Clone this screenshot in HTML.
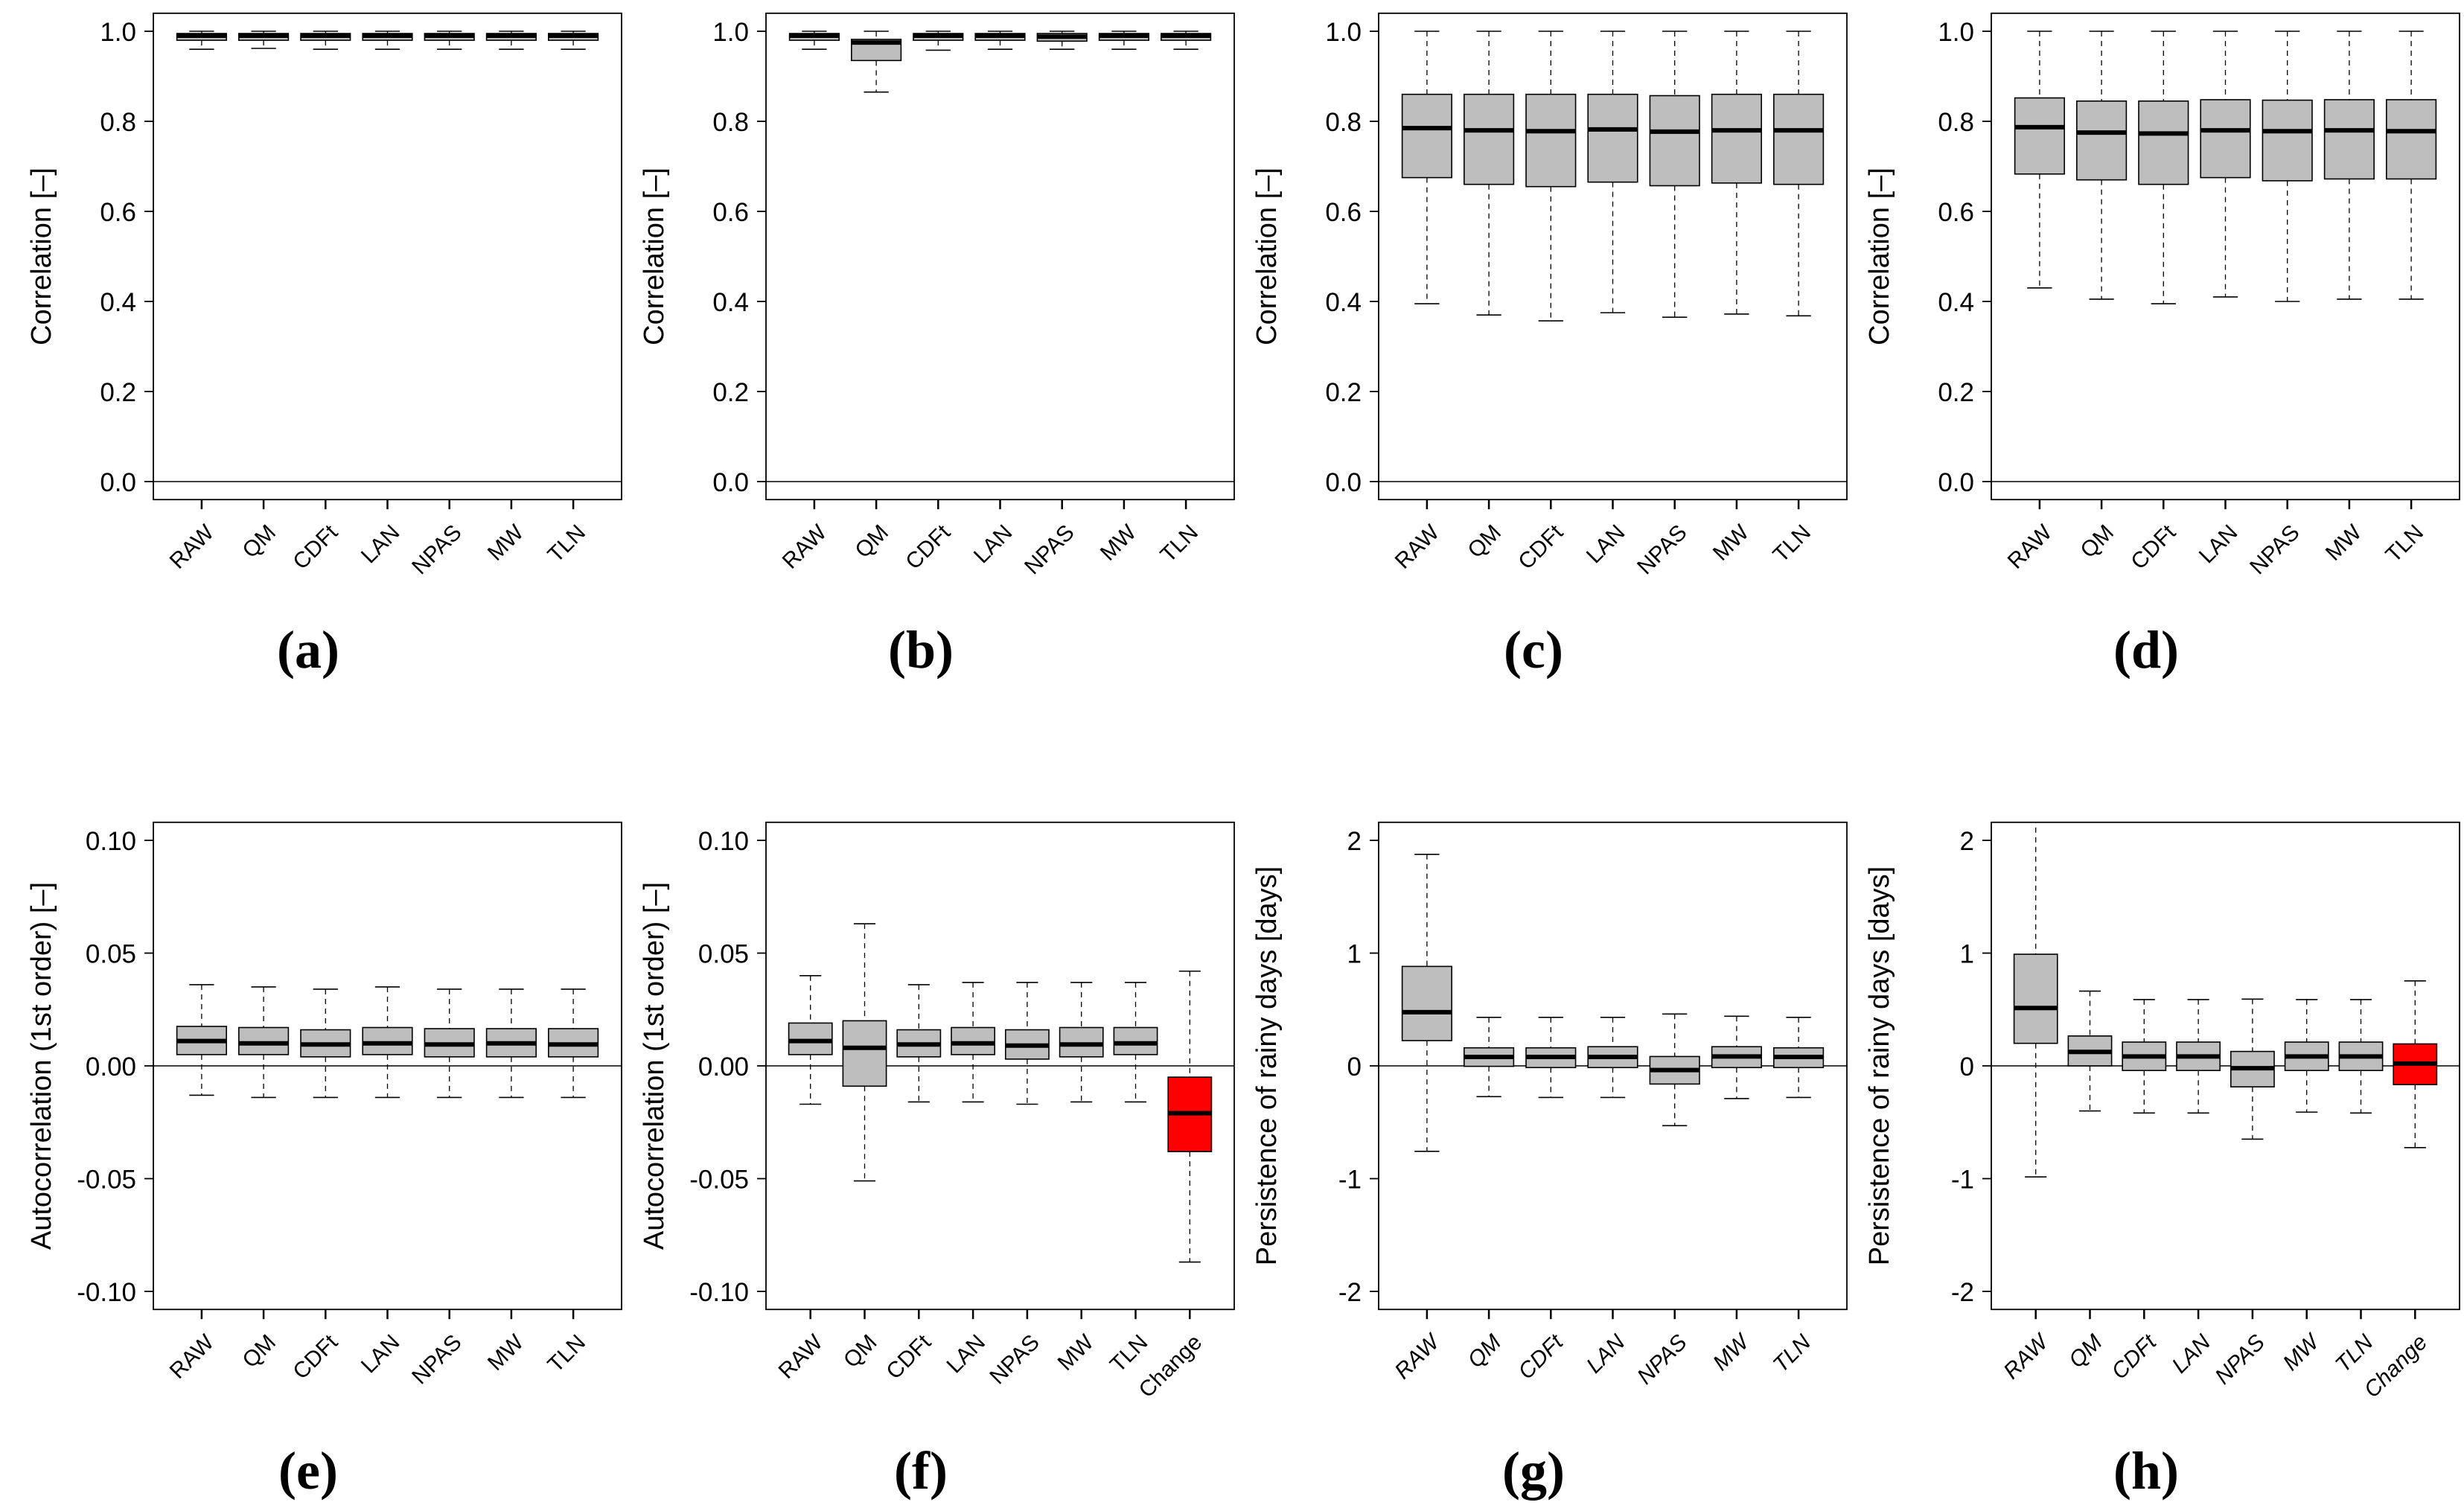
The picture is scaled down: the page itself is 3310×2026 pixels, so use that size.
<!DOCTYPE html>
<html><head><meta charset="utf-8"><style>
html,body{margin:0;padding:0;background:#fff;}
svg{display:block;}
</style></head><body>
<svg id="fig" width="3310" height="2026" viewBox="0 0 3310 2026" xmlns="http://www.w3.org/2000/svg"></svg>
<script>
// ---- data ----
const cats7 = ["RAW","QM","CDFt","LAN","NPAS","MW","TLN"];
const cats8 = ["RAW","QM","CDFt","LAN","NPAS","MW","TLN","Change"];
// each stat array: [lo, q1, med, q3, hi] per category
const dataA = [[0.96,0.98,0.99,0.995,1],[0.962,0.98,0.99,0.995,1],[0.96,0.98,0.99,0.995,1],[0.96,0.98,0.99,0.995,1],[0.96,0.98,0.99,0.995,1],[0.96,0.98,0.99,0.995,1],[0.96,0.98,0.99,0.995,1]];
const dataB = [[0.96,0.98,0.99,0.995,1],[0.865,0.935,0.975,0.982,1],[0.958,0.98,0.99,0.995,1],[0.96,0.98,0.99,0.995,1],[0.96,0.978,0.988,0.995,1],[0.96,0.98,0.99,0.995,1],[0.96,0.98,0.99,0.995,1]];
const dataC = [[0.395,0.675,0.785,0.86,1],[0.37,0.66,0.78,0.86,1],[0.357,0.655,0.778,0.86,1],[0.375,0.665,0.782,0.86,1],[0.365,0.657,0.777,0.857,1],[0.372,0.663,0.78,0.86,1],[0.368,0.66,0.78,0.86,1]];
const dataD = [[0.43,0.683,0.787,0.852,1],[0.405,0.67,0.775,0.845,1],[0.395,0.66,0.773,0.845,1],[0.41,0.675,0.78,0.848,1],[0.4,0.668,0.778,0.847,1],[0.405,0.672,0.78,0.848,1],[0.405,0.672,0.778,0.848,1]];
const dataE = [[-0.013,0.005,0.011,0.0175,0.036],[-0.014,0.005,0.010,0.017,0.035],[-0.014,0.004,0.0095,0.016,0.034],[-0.014,0.005,0.010,0.017,0.035],[-0.014,0.004,0.0095,0.0165,0.034],[-0.014,0.004,0.010,0.0165,0.034],[-0.014,0.004,0.0095,0.0165,0.034]];
const dataF = [[-0.017,0.005,0.011,0.019,0.040],[-0.051,-0.009,0.008,0.020,0.063],[-0.016,0.004,0.0095,0.016,0.036],[-0.016,0.005,0.010,0.017,0.037],[-0.017,0.003,0.009,0.016,0.037],[-0.016,0.004,0.0095,0.017,0.037],[-0.016,0.005,0.010,0.017,0.037],[-0.087,-0.038,-0.021,-0.005,0.042]];
const dataG = [[-0.758,0.224,0.476,0.882,1.876],[-0.273,-0.004,0.079,0.16,0.43],[-0.28,-0.015,0.079,0.16,0.43],[-0.28,-0.015,0.079,0.17,0.43],[-0.53,-0.161,-0.037,0.083,0.46],[-0.29,-0.015,0.083,0.17,0.44],[-0.28,-0.015,0.079,0.16,0.43]];
const dataH = [[-0.985,0.2,0.513,0.99,2.2],[-0.40,0,0.124,0.265,0.663],[-0.418,-0.041,0.083,0.211,0.588],[-0.418,-0.041,0.083,0.211,0.588],[-0.65,-0.186,-0.021,0.128,0.592],[-0.41,-0.041,0.083,0.211,0.588],[-0.418,-0.041,0.083,0.211,0.588],[-0.725,-0.166,0.021,0.195,0.754]];
const ticksCorr = [0,0.2,0.4,0.6,0.8,1.0];
const tickLabCorr = ["0.0","0.2","0.4","0.6","0.8","1.0"];
const ticksAuto = [-0.10,-0.05,0,0.05,0.10];
const tickLabAuto = ["-0.10","-0.05","0.00","0.05","0.10"];
const ticksPers = [-2,-1,0,1,2];
const tickLabPers = ["-2","-1","0","1","2"];

const NS="http://www.w3.org/2000/svg";
const svg=document.getElementById('fig');
function mk(tag,attrs,parent){const e=document.createElementNS(NS,tag);for(const k in attrs)e.setAttribute(k,attrs[k]);(parent||svg).appendChild(e);return e;}

const panels=[
 {id:'a',col:0,row:0,data:dataA,cats:cats7,ymin:0,ymax:1,ticks:ticksCorr,labs:tickLabCorr,title:'Correlation [\u2013]',it:false},
 {id:'b',col:1,row:0,data:dataB,cats:cats7,ymin:0,ymax:1,ticks:ticksCorr,labs:tickLabCorr,title:'Correlation [\u2013]',it:false},
 {id:'c',col:2,row:0,data:dataC,cats:cats7,ymin:0,ymax:1,ticks:ticksCorr,labs:tickLabCorr,title:'Correlation [\u2013]',it:false},
 {id:'d',col:3,row:0,data:dataD,cats:cats7,ymin:0,ymax:1,ticks:ticksCorr,labs:tickLabCorr,title:'Correlation [\u2013]',it:false},
 {id:'e',col:0,row:1,data:dataE,cats:cats7,ymin:-0.1,ymax:0.1,ticks:ticksAuto,labs:tickLabAuto,title:'Autocorrelation (1st order) [\u2013]',it:false},
 {id:'f',col:1,row:1,data:dataF,cats:cats8,ymin:-0.1,ymax:0.1,ticks:ticksAuto,labs:tickLabAuto,title:'Autocorrelation (1st order) [\u2013]',it:false},
 {id:'g',col:2,row:1,data:dataG,cats:cats7,ymin:-2,ymax:2,ticks:ticksPers,labs:tickLabPers,title:'Persistence of rainy days [days]',it:true},
 {id:'h',col:3,row:1,data:dataH,cats:cats8,ymin:-2,ymax:2,ticks:ticksPers,labs:tickLabPers,title:'Persistence of rainy days [days]',it:true}
];
const W=629;
const rowTop=[42,1129], rowBot=[647,1735], labelBase=[897,2000];
panels.forEach(p=>{
  const L=206+823*p.col, R=L+W;
  const yT=rowTop[p.row], yB=rowBot[p.row];
  const yfn=v=>yB-(v-p.ymin)/(p.ymax-p.ymin)*(yB-yT);
  const pad=0.04*(yB-yT);
  const top=yT-pad, bot=yB+pad;
  const n=p.cats.length;
  const unit=W/(n+0.08*n);
  const x0=L+0.04*n*unit;
  const xfn=i=>x0+(i+0.5)*unit;
  const g=mk('g',{});
  
  
  const cp=mk('clipPath',{id:'clip'+p.id},g);mk('rect',{x:L,y:top,width:W,height:bot-top},cp);
  const z=mk('line',{x1:L,x2:R,y1:yfn(0),y2:yfn(0),stroke:'#000','stroke-width':1.5},g);
  
  p.data.forEach((s,i)=>{
    const cx=xfn(i), bw=0.8*unit, cw=0.4*unit;
    const red=p.cats[i]==='Change';
    const bg=mk('g',{'clip-path':'url(#clip'+p.id+')'},g);
    
    
    mk('line',{x1:cx,x2:cx,y1:yfn(s[4]),y2:yfn(s[3]),stroke:'#000','stroke-width':1.3,'stroke-dasharray':'7 6'},bg);
    mk('line',{x1:cx,x2:cx,y1:yfn(s[1]),y2:yfn(s[0]),stroke:'#000','stroke-width':1.3,'stroke-dasharray':'7 6'},bg);
    mk('line',{x1:cx-cw/2,x2:cx+cw/2,y1:yfn(s[4]),y2:yfn(s[4]),stroke:'#000','stroke-width':1.6},bg);
    mk('line',{x1:cx-cw/2,x2:cx+cw/2,y1:yfn(s[0]),y2:yfn(s[0]),stroke:'#000','stroke-width':1.6},bg);
    mk('rect',{x:cx-bw/2,y:yfn(s[3]),width:bw,height:Math.max(1,yfn(s[1])-yfn(s[3])),fill:red?'#ff0000':'#bebebe',stroke:'#000','stroke-width':1.6},bg);
    mk('line',{x1:cx-bw/2,x2:cx+bw/2,y1:yfn(s[2]),y2:yfn(s[2]),stroke:'#000','stroke-width':6},bg);
  });
  const fr=mk('rect',{x:L,y:top,width:W,height:bot-top,fill:'none',stroke:'#000','stroke-width':1.8},g);
  
  p.ticks.forEach((t,k)=>{
    const y=yfn(t);
    mk('line',{x1:L-12,x2:L,y1:y,y2:y,stroke:'#000','stroke-width':1.8},g);
    const tx=mk('text',{x:L-23,y:y+13,'text-anchor':'end','font-family':'"Liberation Sans",sans-serif','font-size':35},g);
    tx.textContent=p.labs[k];
    
  });
  const yt=mk('text',{x:0,y:0,'text-anchor':'middle','font-family':'"Liberation Sans",sans-serif','font-size':38,transform:`translate(${L-138},${(top+bot)/2}) rotate(-90)`},g);
  yt.textContent=p.title;
  
  p.cats.forEach((c,i)=>{
    const x=xfn(i);
    mk('line',{x1:x,x2:x,y1:bot,y2:bot+13,stroke:'#000','stroke-width':2.5},g);
    const tx=mk('text',{x:0,y:0,'text-anchor':'end','font-family':'"Liberation Sans",sans-serif','font-size':30,'font-style':p.it?'italic':'normal',transform:`translate(${x+18},${bot+46}) rotate(-45)`},g);
    tx.textContent=c;
    
  });
  const pl=mk('text',{x:L+208,y:labelBase[p.row],'text-anchor':'middle','font-family':'"Liberation Serif",serif','font-size':72,'font-weight':'bold'},g);
  pl.textContent='('+p.id+')';
  
});
</script>
</body></html>
